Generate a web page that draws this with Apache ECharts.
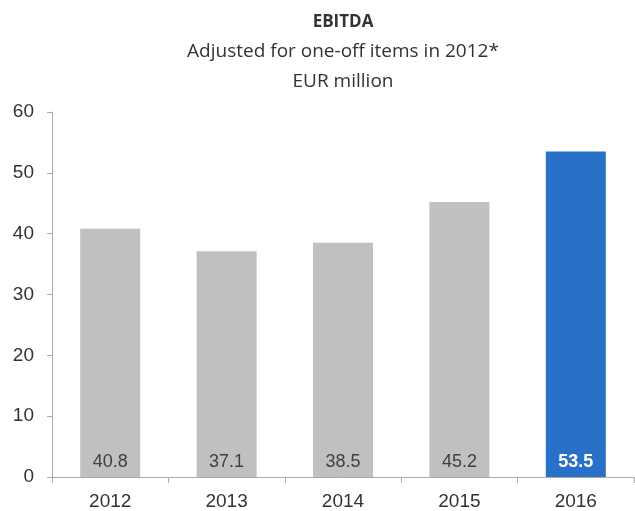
<!DOCTYPE html>
<html><head><meta charset="utf-8">
<script src="https://cdn.jsdelivr.net/npm/echarts@6/dist/echarts.min.js"></script>
<style>html,body{margin:0;padding:0;background:#fff}#c{width:635px;height:511px}</style>
</head><body><div id="c"></div>
<script>
const categories = ['2012', '2013', '2014', '2015', '2016'];
const values = [40.8, 37.1, 38.5, 45.2, 53.5];
const yTicks = [0, 10, 20, 30, 40, 50, 60];
const highlightIndex = 4;

const chart = echarts.init(document.getElementById('c'));
chart.setOption({
  animation: false,
  title: {
    text: 'EBITDA',
    subtext: 'Adjusted for one-off items in 2012*\nEUR million',
    left: 338, top: 9, textAlign: 'center', itemGap: 6,
    textStyle: { fontFamily: 'Open Sans', fontWeight: 'bold', fontSize: 17, color: '#333' },
    subtextStyle: { fontFamily: 'Open Sans', fontSize: 19, color: '#333', lineHeight: 30, align: 'center' }
  },
  grid: { left: 52, right: 1, top: 112, bottom: 34, outerBoundsMode: 'none', containLabel: false },
  xAxis: {
    type: 'category', data: categories,
    axisLine: { lineStyle: { color: '#aaa', width: 1 } },
    axisTick: { show: true, length: 6, lineStyle: { color: '#aaa' } },
    axisLabel: { fontFamily: 'Liberation Sans', fontSize: 19, color: '#333', margin: 15 }
  },
  yAxis: {
    type: 'value', min: yTicks[0], max: yTicks[yTicks.length - 1], interval: 10,
    splitLine: { show: false },
    axisLine: { show: true, lineStyle: { color: '#aaa', width: 1 } },
    axisTick: { show: true, length: 5, lineStyle: { color: '#aaa' } },
    axisLabel: { fontFamily: 'Liberation Sans', fontSize: 19, color: '#333', margin: 18 }
  },
  series: [{
    type: 'bar', barWidth: 60,
    data: values.map((v, i) => ({
      value: v,
      itemStyle: { color: i === highlightIndex ? '#2870c8' : '#c0c0c0' },
      label: i === highlightIndex ? { color: '#fff', fontWeight: 'bold' } : {}
    })),
    label: {
      show: true, position: 'insideBottom', distance: 6,
      fontFamily: 'Liberation Sans', fontSize: 18, color: '#404040',
      formatter: p => p.value.toFixed(1)
    }
  }]
});
</script></body></html>
